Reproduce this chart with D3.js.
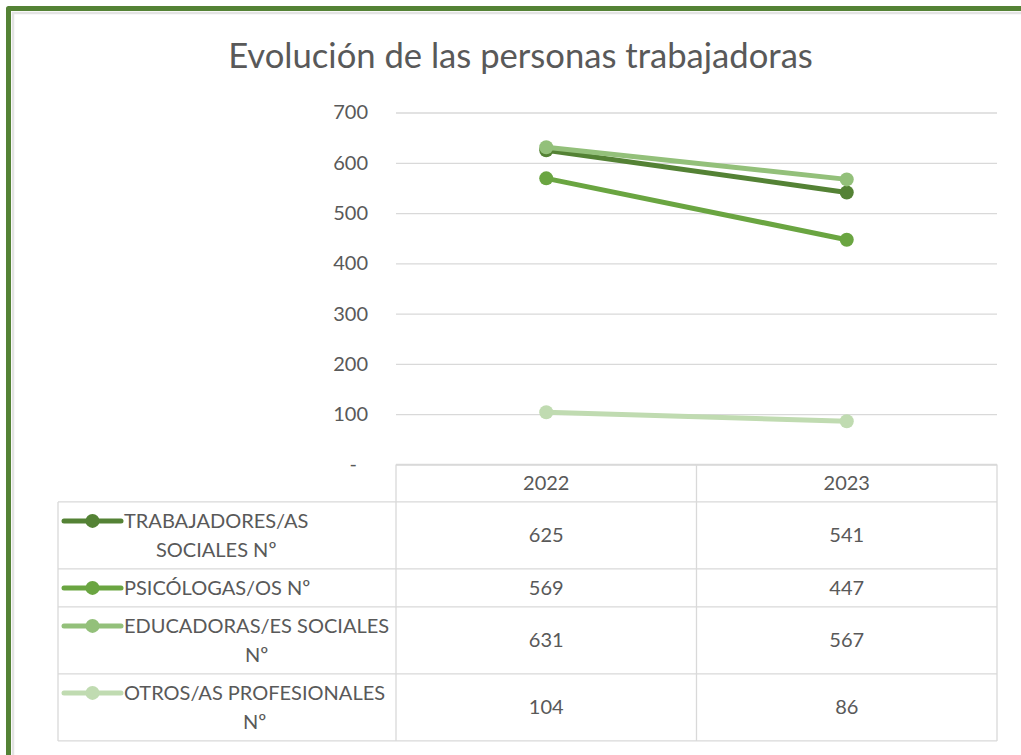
<!DOCTYPE html>
<html>
<head>
<meta charset="utf-8">
<script src="https://cdn.jsdelivr.net/npm/d3@7"></script>
<style>
body { margin: 0; background: #fff; }
svg { display: block; font-family: Lato, "Open Sans", sans-serif; }
</style>
</head>
<body>
<svg width="1021" height="755"></svg>
<script>
// datos
var anos = ["2022", "2023"];
var trabajadoresSociales = [625, 541];
var psicologas = [569, 447];
var educadorasSociales = [631, 567];
var otrosProfesionales = [104, 86];
var nombresSeries = [
	["TRABAJADORES/AS", "SOCIALES Nº"],
	["PSICÓLOGAS/OS Nº"],
	["EDUCADORAS/ES SOCIALES", "Nº"],
	["OTROS/AS PROFESIONALES", "Nº"]
];
var yTicks = [0, 100, 200, 300, 400, 500, 600, 700];
var titulo = "Evolución de las personas trabajadoras";

var colores = ["#548235", "#6aa541", "#93c07a", "#c0dbb1"];
var gris = "#595959";
var lineaTabla = "#d9d9d9";

var series = [trabajadoresSociales, psicologas, educadorasSociales, otrosProfesionales];

function crearGrafico(){
	var svg = d3.select("svg");

	// borde verde del marco
	svg.append("path")
		.attr("d", "M13,755 L13,13 L1021,13")
		.attr("fill", "none")
		.attr("stroke", "#e3e3e3")
		.attr("stroke-width", 2.5);
	svg.append("path")
		.attr("d", "M8.5,755 L8.5,8.5 L1021,8.5")
		.attr("fill", "none")
		.attr("stroke", "#548235")
		.attr("stroke-width", 5)
		.attr("stroke-linejoin", "round");

	// titulo
	var t = svg.append("text")
		.attr("x", 520.5)
		.attr("y", 68)
		.attr("text-anchor", "middle")
		.attr("fill", gris)
		.style("font-size", "30px")
		.text(titulo);
	var w = t.node().getComputedTextLength();
	t.style("font-size", (30 * 585 / w) + "px");

	var left = 396, right = 997;
	var xScale = d3.scaleBand().domain(anos).range([left, right]);
	var yScale = d3.scaleLinear().domain([0, 700]).range([464.5, 112.5]);

	// eje y con lineas de cuadricula
	var eje = svg.append("g")
		.attr("transform", "translate(" + left + ",0)")
		.call(d3.axisLeft(yScale)
			.tickValues(yTicks)
			.tickSize(-(right - left))
			.tickPadding(28)
			.tickFormat(function(d){ return d === 0 ? "-" : d; }));
	eje.select(".domain").remove();
	eje.selectAll(".tick line")
		.attr("stroke", lineaTabla)
		.attr("stroke-width", 1.3);
	eje.selectAll(".tick text")
		.attr("fill", gris)
		.style("font-size", "20px")
		.style("font-family", "Lato, sans-serif");
	eje.selectAll(".tick").filter(function(d){ return d === 0; })
		.select("text").attr("x", -39);

	// lineas y marcadores
	var linea = d3.line()
		.x(function(d, i){ return xScale(anos[i]) + xScale.bandwidth() / 2; })
		.y(function(d){ return yScale(d); });

	series.forEach(function(s, k){
		var g = svg.append("g");
		g.append("path")
			.attr("d", linea(s))
			.attr("fill", "none")
			.attr("stroke", colores[k])
			.attr("stroke-width", 5)
			.attr("stroke-linecap", "round");
		g.selectAll("circle")
			.data(s)
			.enter().append("circle")
			.attr("cx", function(d, i){ return xScale(anos[i]) + xScale.bandwidth() / 2; })
			.attr("cy", function(d){ return yScale(d); })
			.attr("r", 7)
			.attr("fill", colores[k]);
	});

	// tabla de datos
	var tablaLeft = 58;
	var top = yScale(0);
	var cabecera = 37.4;
	var alturas = nombresSeries.map(function(n){ return 9 + 29 * n.length; });
	var filas = [];
	var yy = top + cabecera;
	alturas.forEach(function(h){ filas.push(yy); yy += h; });
	var bottom = yy;

	var tabla = svg.append("g")
		.attr("stroke", lineaTabla)
		.attr("stroke-width", 1.3)
		.attr("fill", "none");
	tabla.append("line").attr("x1", left).attr("x2", right).attr("y1", top).attr("y2", top);
	filas.forEach(function(fy){
		tabla.append("line").attr("x1", tablaLeft).attr("x2", right).attr("y1", fy).attr("y2", fy);
	});
	tabla.append("line").attr("x1", tablaLeft).attr("x2", right).attr("y1", bottom).attr("y2", bottom);
	tabla.append("line").attr("x1", tablaLeft).attr("x2", tablaLeft).attr("y1", filas[0]).attr("y2", bottom);
	[left, left + xScale.bandwidth(), right].forEach(function(vx){
		tabla.append("line").attr("x1", vx).attr("x2", vx).attr("y1", top).attr("y2", bottom);
	});

	// cabecera con los anos
	svg.selectAll(".ano")
		.data(anos)
		.enter().append("text")
		.attr("class", "ano")
		.attr("x", function(d){ return xScale(d) + xScale.bandwidth() / 2; })
		.attr("y", top + cabecera / 2)
		.attr("dy", "0.35em")
		.attr("text-anchor", "middle")
		.attr("fill", gris)
		.style("font-size", "20px")
		.text(function(d){ return d; });

	// filas: leyenda + valores
	series.forEach(function(s, k){
		var fy = filas[k], h = alturas[k];
		var lineas = nombresSeries[k];
		var primera = fy + h / 2 - (lineas.length - 1) * 29 / 2;

		svg.append("line")
			.attr("x1", 64).attr("x2", 121)
			.attr("y1", primera).attr("y2", primera)
			.attr("stroke", colores[k])
			.attr("stroke-width", 5)
			.attr("stroke-linecap", "round");
		svg.append("circle")
			.attr("cx", 92.5).attr("cy", primera).attr("r", 7)
			.attr("fill", colores[k]);

		var txt = svg.append("g");
		lineas.forEach(function(l, j){
			txt.append("text")
				.attr("y", primera + j * 29)
				.attr("dy", "0.35em")
				.attr("text-anchor", "middle")
				.attr("fill", gris)
				.style("font-size", "20px")
				.text(l);
		});
		var maxW = d3.max(txt.selectAll("text").nodes(), function(n){ return n.getComputedTextLength(); });
		txt.selectAll("text").attr("x", 124 + maxW / 2);

		svg.selectAll(".v" + k)
			.data(s)
			.enter().append("text")
			.attr("class", "v" + k)
			.attr("x", function(d, i){ return xScale(anos[i]) + xScale.bandwidth() / 2; })
			.attr("y", fy + h / 2)
			.attr("dy", "0.35em")
			.attr("text-anchor", "middle")
			.attr("fill", gris)
			.style("font-size", "20px")
			.text(function(d){ return d; });
	});
}

crearGrafico();
</script>
</body>
</html>
